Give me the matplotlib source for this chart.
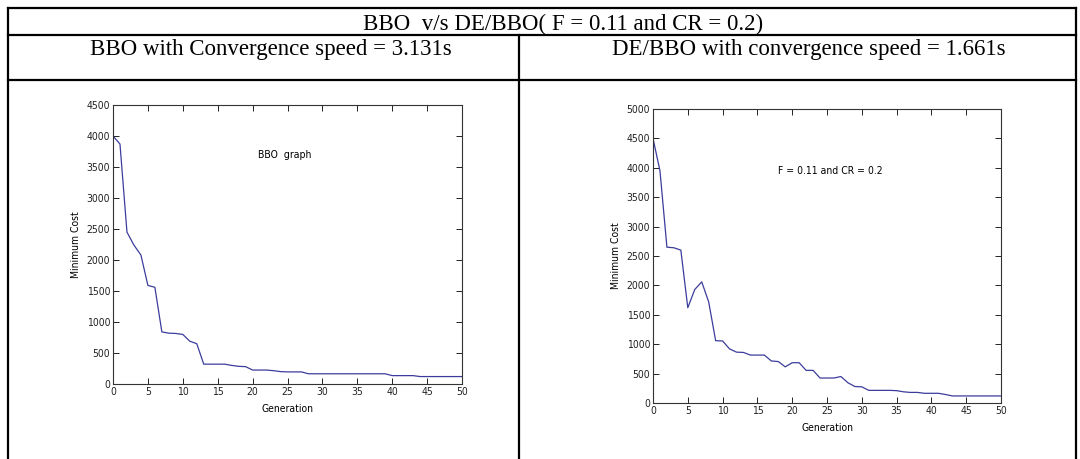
import numpy as np
import matplotlib
matplotlib.use("Agg")
import matplotlib.pyplot as plt
from matplotlib.lines import Line2D

# data (generation 0..50)
generation = list(range(0, 51))
bbo_cost = [4000, 3870, 2450, 2240, 2080, 1590, 1560, 840, 820, 815,
            800, 690, 650, 320, 320, 320, 320, 300, 285, 280,
            225, 225, 225, 215, 200, 195, 195, 195, 165, 165,
            165, 165, 165, 165, 165, 165, 165, 165, 165, 165,
            135, 135, 135, 135, 120, 120, 120, 120, 120, 120, 120]
debbo_cost = [4500, 3950, 2650, 2640, 2600, 1620, 1930, 2060, 1720, 1060,
              1055, 920, 865, 860, 815, 815, 815, 715, 705, 615,
              685, 685, 555, 555, 425, 425, 425, 450, 345, 280,
              275, 215, 215, 215, 215, 210, 190, 180, 180, 165,
              165, 165, 145, 120, 120, 120, 120, 120, 120, 120, 120]

title_text = "BBO  v/s DE/BBO( F = 0.11 and CR = 0.2)"
left_head = "BBO with Convergence speed = 3.131s"
right_head = "DE/BBO with convergence speed = 1.661s"
bbo_note = "BBO  graph"
de_note = "F = 0.11 and CR = 0.2"

W, H = 1080, 459
fig = plt.figure(figsize=(W / 100, H / 100), dpi=100)

def px(x0, y0, x1, y1):
    return [x0 / W, 1 - y1 / H, (x1 - x0) / W, (y1 - y0) / H]

# table frame
lw = 1.6
for y in [8, 35, 80]:
    fig.add_artist(Line2D([8 / W, 1076 / W], [1 - y / H, 1 - y / H], color="black", lw=lw))
for x, ytop in [(8, 8), (1076, 8), (519, 35)]:
    fig.add_artist(Line2D([x / W, x / W], [1 - ytop / H, 0], color="black", lw=lw))

serif = ["Liberation Serif", "DejaVu Serif"]
fig.text(563 / W, 1 - 30 / H, title_text, ha="center", va="baseline", family=serif, fontsize=16.5)
fig.text(90 / W, 1 - 55 / H, left_head, ha="left", va="baseline", family=serif, fontsize=16.5)
fig.text(612 / W, 1 - 55 / H, right_head, ha="left", va="baseline", family=serif, fontsize=16.5)

sans = "DejaVu Sans"
line_col = "#3c3c9c"

def style(ax, ymax):
    ax.set_xlim(0, 50)
    ax.set_ylim(0, ymax)
    ax.set_xticks(np.arange(0, 51, 5))
    ax.set_yticks(np.arange(0, ymax + 1, 500))
    ax.tick_params(direction="in", top=True, right=True, length=4, width=0.7,
                   labelsize=7.5, pad=2, colors="#222222")
    for lab in ax.get_xticklabels() + ax.get_yticklabels():
        lab.set_family(sans)
        lab.set_stretch("condensed")
    for s in ax.spines.values():
        s.set_linewidth(0.8)
        s.set_color("#333333")
    ax.set_xlabel("Generation", family=sans, stretch="condensed", fontsize=7.5, labelpad=5)
    ax.set_ylabel("Minimum Cost", family=sans, stretch="condensed", fontsize=7.5, labelpad=4)

ax1 = fig.add_axes(px(113, 105, 462, 384))
ax1.plot(generation, bbo_cost, color=line_col, lw=0.9)
style(ax1, 4500)
ax1.text(20.8, 3700, bbo_note, family=sans, stretch="condensed", fontsize=7.5, va="center")

ax2 = fig.add_axes(px(653, 109, 1001, 403))
ax2.plot(generation, debbo_cost, color=line_col, lw=0.9)
style(ax2, 5000)
ax2.text(18, 3950, de_note, family=sans, stretch="condensed", fontsize=7.5, va="center")

fig.savefig("out.png", dpi=100)
